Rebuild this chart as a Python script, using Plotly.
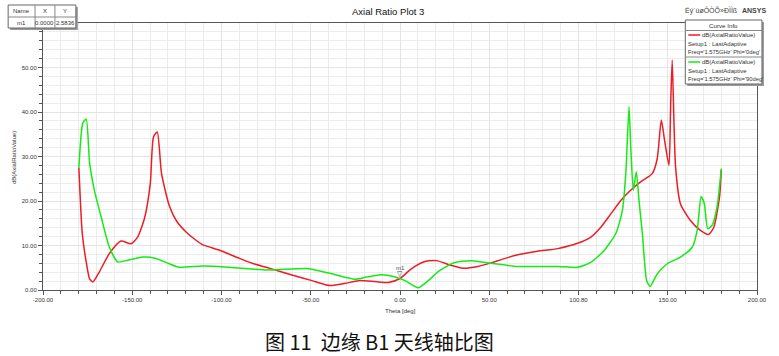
import plotly.graph_objects as go

# ---------------- data ----------------
theta_phi0 = [-179.9, -178.0, -175.8, -173.9, -172.1, -168.4, -162.8, -156.3, -150.7, -147.0,
              -143.2, -139.9, -138.1, -136.0, -133.6, -129.3, -125.0, -120.0, -115.0, -110.7,
              -101.4, -95.8, -90.0, -82.8, -75.0, -68.9, -60.0, -49.3, -39.1, -30.7,
              -23.3, -14.0, -6.5, 0.0, 6.5, 14.0, 20.4, 28.8, 35.3, 43.7,
              51.1, 58.0, 66.0, 77.0, 88.3, 99.5, 106.9, 112.5, 118.1, 123.7,
              129.2, 134.8, 139.0, 141.4, 144.1, 146.4, 148.2, 150.7, 151.6, 152.5,
              153.5, 154.4, 157.1, 162.7, 168.3, 173.0, 175.8, 179.0, 180.0]
ar_phi0 = [27.4, 12.7, 6.3, 2.5, 1.8, 4.1, 8.2, 11.0, 10.4, 11.9,
           16.0, 23.9, 34.4, 35.5, 26.2, 19.0, 15.4, 13.1, 11.4, 10.2,
           9.0, 8.1, 7.1, 6.0, 5.1, 4.4, 3.3, 2.1, 1.0, 1.5,
           2.1, 1.9, 1.7, 2.5836, 4.8, 6.4, 6.6, 5.5, 4.9, 5.3,
           6.1, 7.0, 7.9, 8.7, 9.3, 10.5, 11.9, 14.1, 17.1, 20.1,
           22.4, 24.3, 25.4, 26.2, 29.5, 38.2, 33.7, 28.0, 41.2, 51.7,
           37.4, 27.6, 19.4, 15.6, 13.4, 12.5, 14.1, 20.9, 27.0]

theta_phi90 = [-179.9, -177.7, -175.8, -173.9, -171.2, -167.4, -162.8, -158.1, -153.5, -144.2,
               -136.7, -129.3, -123.7, -110.7, -101.4, -95.8, -73.5, -51.2, -40.0, -25.1,
               -18.6, -10.3, -2.8, 2.8, 10.2, 15.8, 22.3, 30.7, 40.0, 51.1,
               66.0, 88.3, 99.5, 106.9, 114.4, 120.9, 124.6, 126.5, 128.3, 129.2,
               130.7, 132.4, 133.9, 135.8, 138.2, 140.1, 144.1, 149.7, 157.1, 163.7,
               166.5, 168.7, 170.5, 172.4, 174.8, 177.6, 180.0]
ar_phi90 = [27.4, 37.5, 38.4, 28.5, 22.4, 16.4, 9.6, 6.3, 6.6, 7.4,
            7.1, 5.9, 5.1, 5.4, 5.3, 5.1, 4.5, 4.8, 3.8, 2.4,
            2.9, 3.4, 2.9, 2.1, 0.5, 2.1, 4.4, 6.2, 6.6, 6.0,
            5.3, 5.3, 5.1, 6.2, 8.9, 12.7, 17.9, 26.2, 41.2, 32.9,
            22.4, 26.6, 20.1, 12.6, 2.1, 0.8, 3.6, 5.9, 7.4, 9.6,
            13.4, 21.0, 19.4, 13.8, 14.5, 18.6, 27.3]

x_tickvals = [-200, -150, -100, -50, 0, 50, 100, 150, 200]
x_ticktext = ["-200.00", "-150.00", "-100.00", "-50.00", "0.00", "50.00", "100.80", "150.00", "200.00"]

marker_name = "m1"
marker_x = 0.0
marker_y = 2.5836

series_names = ["dB(AxialRatioValue)", "dB(AxialRatioValue)"]
series_setup = ["Setup1 : LastAdaptive", "Setup1 : LastAdaptive"]
series_freq = ["Freq='1.575GHz' Phi='0deg'", "Freq='1.575GHz' Phi='90deg'"]

# ---------------- layout helpers ----------------
W, H = 779, 356
L, R, T, B = 43, 19, 23, 66
PW, PH = W - L - R, H - T - B


def px(x):
    return (x - L) / PW


def py(y):
    return (H - B - y) / PH


RED = "rgb(238,28,36)"
GREEN = "rgb(20,235,20)"
FONT = "Liberation Sans, Arial, sans-serif"

fig = go.Figure()
fig.add_trace(go.Scatter(x=theta_phi0, y=ar_phi0, mode="lines",
                         line=dict(color=RED, width=1.5, shape="spline", smoothing=0.6),
                         showlegend=False))
fig.add_trace(go.Scatter(x=theta_phi90, y=ar_phi90, mode="lines",
                         line=dict(color=GREEN, width=1.5, shape="spline", smoothing=0.6),
                         showlegend=False))

shapes = []
annotations = []

# marker m1
annotations.append(dict(x=marker_x, y=marker_y, xref="x", yref="y", text="▽",
                        showarrow=False, yanchor="bottom", yshift=0,
                        font=dict(family=FONT, size=7, color="#444")))
annotations.append(dict(x=marker_x, y=marker_y, xref="x", yref="y", text=marker_name,
                        showarrow=False, yanchor="bottom", yshift=6,
                        font=dict(family=FONT, size=6, color="#444")))

# marker table (top-left)
tx0, tx1, ty0, ty1 = 8, 76, 5, 28
shapes.append(dict(type="rect", xref="paper", yref="paper", x0=px(tx0 + 2), x1=px(tx1 + 2),
                   y0=py(ty1 + 2), y1=py(ty0 + 2), fillcolor="#9a9a9a", line=dict(width=0),
                   layer="above"))
shapes.append(dict(type="rect", xref="paper", yref="paper", x0=px(tx0), x1=px(tx1),
                   y0=py(ty1), y1=py(ty0), fillcolor="white", line=dict(color="#666", width=1),
                   layer="above"))
shapes.append(dict(type="line", xref="paper", yref="paper", x0=px(tx0), x1=px(tx1),
                   y0=py(17), y1=py(17), line=dict(color="#888", width=1), layer="above"))
for cx in (35, 55):
    shapes.append(dict(type="line", xref="paper", yref="paper", x0=px(cx), x1=px(cx),
                       y0=py(ty1), y1=py(ty0), line=dict(color="#888", width=1), layer="above"))
for txt, cx, cy in [("Name", 21.5, 11), ("X", 45, 11), ("Y", 65.5, 11),
                    (marker_name, 21.5, 22.5), (f"{marker_x:.4f}", 45, 22.5), (f"{marker_y:.4f}", 65.5, 22.5)]:
    annotations.append(dict(x=px(cx), y=py(cy), xref="paper", yref="paper", text=txt,
                            showarrow=False, xanchor="center", yanchor="middle",
                            font=dict(family=FONT, size=6, color="#333")))

# curve info legend
lx0, lx1, ly0, ly1 = 688, 765, 20, 84
shapes.append(dict(type="rect", xref="paper", yref="paper", x0=px(lx0 + 2), x1=px(lx1 + 2),
                   y0=py(ly1 + 2), y1=py(ly0 + 2), fillcolor="#9a9a9a", line=dict(width=0),
                   layer="above"))
shapes.append(dict(type="rect", xref="paper", yref="paper", x0=px(lx0), x1=px(lx1),
                   y0=py(ly1), y1=py(ly0), fillcolor="white", line=dict(color="#666", width=1),
                   layer="above"))
for sy in (30.5, 57):
    shapes.append(dict(type="line", xref="paper", yref="paper", x0=px(lx0), x1=px(lx1),
                       y0=py(sy), y1=py(sy), line=dict(color="#888", width=1), layer="above"))
annotations.append(dict(x=px(726), y=py(25), xref="paper", yref="paper", text="Curve Info",
                        showarrow=False, xanchor="center", yanchor="middle",
                        font=dict(family=FONT, size=6.2, color="#333")))
for i, (col, y0) in enumerate([(RED, 35), (GREEN, 62)]):
    shapes.append(dict(type="line", xref="paper", yref="paper", x0=px(691), x1=px(703),
                       y0=py(y0), y1=py(y0), line=dict(color=col, width=1.5), layer="above"))
    annotations.append(dict(x=px(760), y=py(y0), xref="paper", yref="paper", text=series_names[i],
                            showarrow=False, xanchor="right", yanchor="middle",
                            font=dict(family=FONT, size=6, color="#333")))
    annotations.append(dict(x=px(689), y=py(y0 + 9), xref="paper", yref="paper", text=series_setup[i],
                            showarrow=False, xanchor="left", yanchor="middle",
                            font=dict(family=FONT, size=6, color="#333")))
    annotations.append(dict(x=px(689), y=py(y0 + 17), xref="paper", yref="paper", text=series_freq[i],
                            showarrow=False, xanchor="left", yanchor="middle",
                            font=dict(family=FONT, size=5.8, color="#333")))

# header texts
annotations.append(dict(x=px(389), y=py(12), xref="paper", yref="paper", text="Axial Ratio Plot 3",
                        showarrow=False, xanchor="center", yanchor="middle",
                        font=dict(family=FONT, size=9.5, color="#111")))
annotations.append(dict(x=px(771), y=py(10), xref="paper", yref="paper", text="<b>ANSYS</b>",
                        showarrow=False, xanchor="right", yanchor="middle",
                        font=dict(family=FONT, size=7, color="#444")))
annotations.append(dict(x=px(742), y=py(10), xref="paper", yref="paper", text="Ëý´úøÔÒÕ»ÐÌÌß",
                        showarrow=False, xanchor="right", yanchor="middle",
                        font=dict(family=FONT, size=7, color="#444")))

# axis titles
annotations.append(dict(x=px(402), y=py(311), xref="paper", yref="paper", text="Theta [deg]",
                        showarrow=False, xanchor="center", yanchor="middle",
                        font=dict(family=FONT, size=6, color="#333")))
annotations.append(dict(x=px(14), y=py(158), xref="paper", yref="paper", text="dB(AxialRatioValue)",
                        showarrow=False, xanchor="center", yanchor="middle", textangle=-90,
                        font=dict(family=FONT, size=6, color="#333")))

# caption
annotations.append(dict(x=px(381), y=py(341), xref="paper", yref="paper",
                        text="图 11  边缘 B1 天线轴比图",
                        showarrow=False, xanchor="center", yanchor="middle",
                        font=dict(family="Noto Sans CJK SC", size=20, color="#111")))

fig.update_layout(
    width=W, height=H,
    margin=dict(l=L, r=R, t=T, b=B, pad=0),
    paper_bgcolor="white", plot_bgcolor="white",
    font=dict(family=FONT, size=6, color="#333"),
    shapes=shapes, annotations=annotations,
    showlegend=False,
)
fig.update_xaxes(
    range=[-200, 200], tickvals=x_tickvals, ticktext=x_ticktext,
    showline=True, linecolor="#555", linewidth=1, mirror=True,
    ticks="outside", ticklen=4, tickcolor="#555",
    showgrid=True, gridcolor="#e4e4e4", gridwidth=1, zeroline=False,
    minor=dict(dtick=10, tick0=0, ticks="outside", ticklen=3, tickcolor="#555",
               showgrid=True, gridcolor="#ececec"),
    tickfont=dict(family=FONT, size=6, color="#333"),
)
fig.update_yaxes(
    range=[0, 60], tickvals=[0, 10, 20, 30, 40, 50],
    ticktext=["0.00", "10.00", "20.00", "30.00", "40.00", "50.00"],
    showline=True, linecolor="#555", linewidth=1, mirror=True,
    ticks="outside", ticklen=4, tickcolor="#555",
    showgrid=True, gridcolor="#e4e4e4", gridwidth=1, zeroline=False,
    minor=dict(dtick=2, tick0=0, ticks="outside", ticklen=3, tickcolor="#555",
               showgrid=True, gridcolor="#ececec"),
    tickfont=dict(family=FONT, size=6, color="#333"),
)

fig.write_html("out.html")
